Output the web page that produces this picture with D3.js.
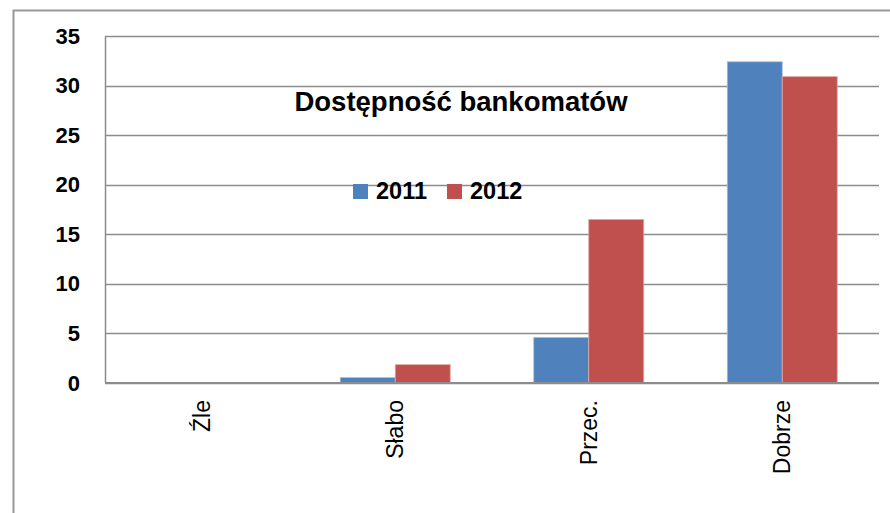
<!DOCTYPE html>
<html>
<head>
<meta charset="utf-8">
<script src="https://cdn.jsdelivr.net/npm/d3@7"></script>
<style>
body { margin: 0; background: #fff; }
svg { display: block; font-family: "Liberation Sans", Arial, sans-serif; }
</style>
</head>
<body>
<div id="chart"></div>
<script>
// dane
var categories = ["Źle", "Słabo", "Przec.", "Dobrze"];
var seriesNames = ["2011", "2012"];
var values2011 = [0, 0.55, 4.6, 32.4];
var values2012 = [0, 1.85, 16.5, 30.9];
var yTicks = [0, 5, 10, 15, 20, 25, 30, 35];
var colors = ["#4F81BD", "#C0504D"];

var W = 890, H = 513;
var margin = { top: 36, right: 11, bottom: 130, left: 105 };
var width = W - margin.left - margin.right,
    height = 383 - margin.top;

var svg = d3.select("#chart").append("svg")
  .attr("width", W).attr("height", H);

// ramka (tylko góra i lewa strona widoczne)
svg.append("path")
  .attr("d", "M13.5," + H + "V10.5H" + W)
  .attr("fill", "none")
  .attr("stroke", "#999")
  .attr("stroke-width", 2);

var g = svg.append("g")
  .attr("transform", "translate(" + margin.left + "," + margin.top + ")");

var x = d3.scaleBand().domain(categories).range([0, width]).paddingInner(0).paddingOuter(0);
var x1 = d3.scaleBand().domain(seriesNames).range([0, 110]);
var y = d3.scaleLinear().domain([0, 35]).range([height, 0]);

// linie siatki
g.append("g")
  .selectAll("line").data(yTicks).enter()
  .append("line")
  .attr("x1", 0).attr("x2", width)
  .attr("y1", function (d) { return Math.round(y(d)) + 0.5; })
  .attr("y2", function (d) { return Math.round(y(d)) + 0.5; })
  .attr("stroke", "#8c8c8c")
  .attr("stroke-width", 1.5);

// oś Y (pionowa linia)
g.append("line")
  .attr("x1", 0.5).attr("x2", 0.5)
  .attr("y1", y(35)).attr("y2", y(0))
  .attr("stroke", "#8c8c8c").attr("stroke-width", 1.5);

// etykiety osi Y
var yAxis = g.append("g")
  .call(d3.axisLeft(y).tickValues(yTicks).tickSize(0).tickPadding(25));
yAxis.select(".domain").remove();
yAxis.selectAll("text")
  .attr("font-family", "Liberation Sans, Arial, sans-serif")
  .attr("font-size", "22px")
  .attr("font-weight", "bold")
  .attr("fill", "#000");

// słupki
var data = categories.map(function (c, i) {
  return { cat: c, vals: [values2011[i], values2012[i]] };
});
var groups = g.selectAll(".grp").data(data).enter()
  .append("g")
  .attr("transform", function (d) {
    return "translate(" + (x(d.cat) + x.bandwidth() / 2 - 55) + ",0)";
  });
groups.selectAll("rect")
  .data(function (d) { return d.vals.map(function (v, i) { return { s: seriesNames[i], v: v, i: i }; }); })
  .enter().append("rect")
  .attr("x", function (d) { return x1(d.s); })
  .attr("y", function (d) { return y(d.v); })
  .attr("width", x1.bandwidth())
  .attr("height", function (d) { return y(0) - y(d.v); })
  .attr("fill", function (d) { return colors[d.i]; })
  .attr("stroke", function (d) { return d.i === 0 ? "#a7c0de" : "#e0a8a6"; })
  .attr("stroke-width", function (d) { return d.v > 0 ? 0.8 : 0; });

// oś X (linia zero)
g.append("line")
  .attr("x1", 0).attr("x2", width)
  .attr("y1", y(0)).attr("y2", y(0))
  .attr("stroke", "#8c8c8c").attr("stroke-width", 2);

// etykiety kategorii (pionowe)
g.selectAll(".xl").data(categories).enter()
  .append("text")
  .attr("transform", function (d) {
    return "translate(" + (x(d) + x.bandwidth() / 2) + "," + (y(0) + 17) + ")rotate(-90)";
  })
  .attr("dy", "0.35em")
  .attr("text-anchor", "end")
  .attr("font-size", "23px")
  .attr("fill", "#000")
  .text(function (d) { return d; });

// tytuł
svg.append("text")
  .attr("x", 461).attr("y", 111)
  .attr("text-anchor", "middle")
  .attr("font-size", "27.5px")
  .attr("font-weight", "bold")
  .text("Dostępność bankomatów");

// legenda
var legX = [353, 447];
var leg = svg.selectAll(".leg").data(seriesNames).enter()
  .append("g")
  .attr("transform", function (d, i) { return "translate(" + legX[i] + ",184)"; });
leg.append("rect")
  .attr("width", 15).attr("height", 15)
  .attr("fill", function (d, i) { return colors[i]; });
leg.append("text")
  .attr("x", 23).attr("y", 15)
  .attr("font-size", "23.5px")
  .attr("font-weight", "bold")
  .text(function (d) { return d; });
</script>
</body>
</html>
